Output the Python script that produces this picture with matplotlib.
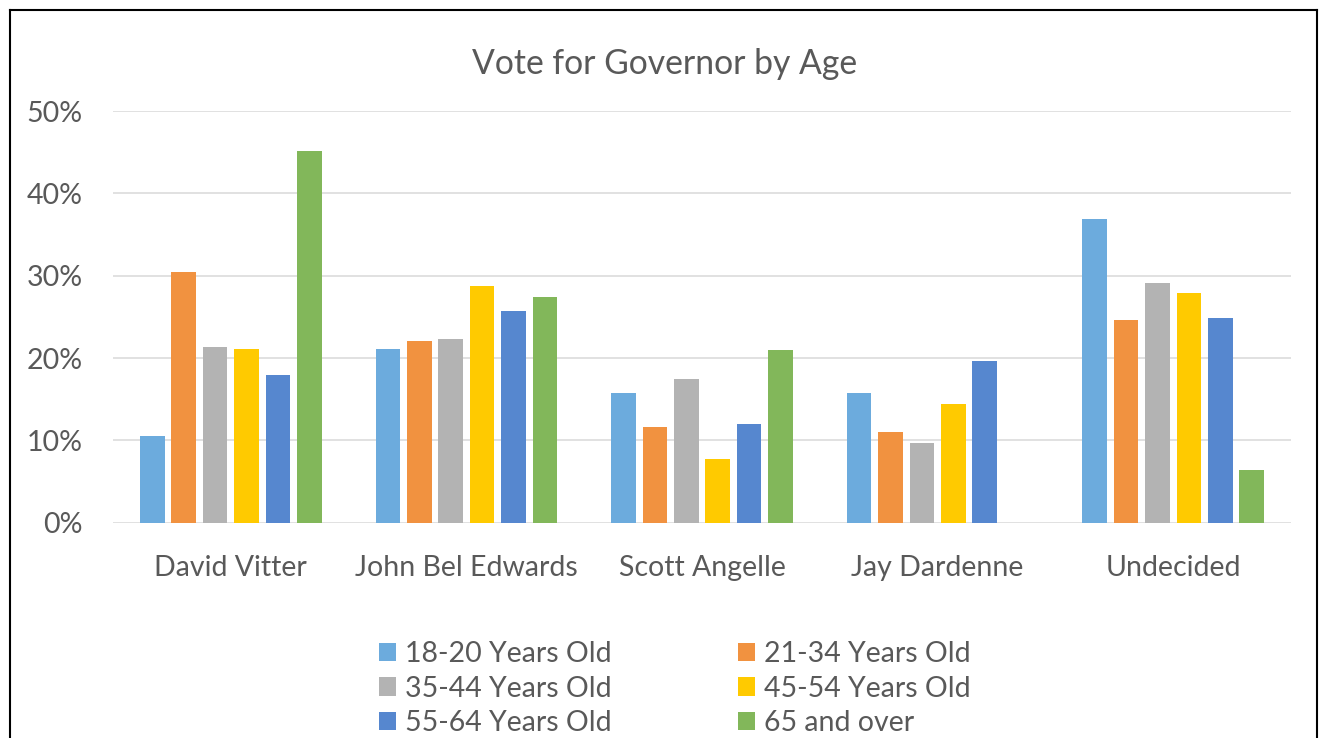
import numpy as np
import matplotlib.pyplot as plt
from matplotlib.lines import Line2D

# ---------------------------------------------------------
# Data
# ---------------------------------------------------------
CANDIDATES = ["David Vitter", "John Bel Edwards", "Scott Angelle",
              "Jay Dardenne", "Undecided"]

AGE_GROUPS = ["18-20 Years Old", "21-34 Years Old", "35-44 Years Old",
              "45-54 Years Old", "55-64 Years Old", "65 and over"]

age_18_20 = [10.5, 21.1, 15.8, 15.8, 36.9]
age_21_34 = [30.5, 22.1, 11.6, 11.0, 24.6]
age_35_44 = [21.3, 22.3, 17.5, 9.7, 29.1]
age_45_54 = [21.1, 28.8, 7.7, 14.4, 27.9]
age_55_64 = [17.9, 25.7, 12.0, 19.6, 24.8]
age_65_up = [45.2, 27.4, 21.0, 0.0, 6.4]

SERIES = [age_18_20, age_21_34, age_35_44, age_45_54, age_55_64, age_65_up]

COLORS = ["#6CABDD", "#F19240", "#B3B3B3", "#FFCA00", "#5687CF", "#82B75A"]

TEXT_COLOR = "#595959"
GRID_COLOR = "#D9D9D9"

plt.rcParams["font.family"] = ["Lato", "DejaVu Sans"]

# ---------------------------------------------------------
# Figure
# ---------------------------------------------------------
W, H = 1322, 738
fig = plt.figure(figsize=(W / 100, H / 100), dpi=100)
ax = fig.add_axes([113 / W, 1 - 522.7 / H, (1291 - 113) / W, (522.7 - 111) / H])

x = np.arange(len(CANDIDATES))
slot = 0.1333
bar_w = 0.104
offsets = (np.arange(len(SERIES)) - (len(SERIES) - 1) / 2) * slot

bars = []
for vals, off, color, label in zip(SERIES, offsets, COLORS, AGE_GROUPS):
    b = ax.bar(x + off, np.array(vals) / 100, width=bar_w, color=color,
               label=label, zorder=3)
    bars.append(b)

ax.set_xlim(-0.5, len(CANDIDATES) - 0.5)
ax.set_ylim(0, 0.5)
ax.set_yticks(np.arange(0, 0.51, 0.1))
ax.set_yticklabels([f"{int(round(v * 100))}%" for v in np.arange(0, 0.51, 0.1)])
ax.set_xticks(x)
ax.set_xticklabels(CANDIDATES)

ax.grid(axis="y", color=GRID_COLOR, linewidth=1.1, zorder=0)
for s in ax.spines.values():
    s.set_visible(False)
ax.tick_params(axis="both", length=0, colors=TEXT_COLOR, labelsize=20.5)
ax.tick_params(axis="y", pad=22)
ax.tick_params(axis="x", pad=23.5)

fig.text(664.5 / W, 1 - 64 / H, "Vote for Governor by Age", ha="center",
         va="center", fontsize=24.3, color=TEXT_COLOR)

# Legend: two columns, filled row by row
order = [0, 2, 4, 1, 3, 5]
leg = fig.legend([bars[i] for i in order], [AGE_GROUPS[i] for i in order],
                 ncol=2, loc="upper left", bbox_to_anchor=(379 / W, 1 - 641 / H),
                 frameon=False, fontsize=20.5, handlelength=0.6,
                 handleheight=0.6, handletextpad=0.3, columnspacing=4.45,
                 labelspacing=0.3, borderaxespad=0, borderpad=0)
for t in leg.get_texts():
    t.set_color(TEXT_COLOR)

# Black chart border
fig.add_artist(Line2D([10 / W, 10 / W], [0, 1 - 9.5 / H], color="black", lw=1.5))
fig.add_artist(Line2D([10 / W, 1317 / W], [1 - 9.5 / H, 1 - 9.5 / H], color="black", lw=1.5))
fig.add_artist(Line2D([1317 / W, 1317 / W], [0, 1 - 9.5 / H], color="black", lw=1.5))

fig.savefig("out.png", dpi=100)
